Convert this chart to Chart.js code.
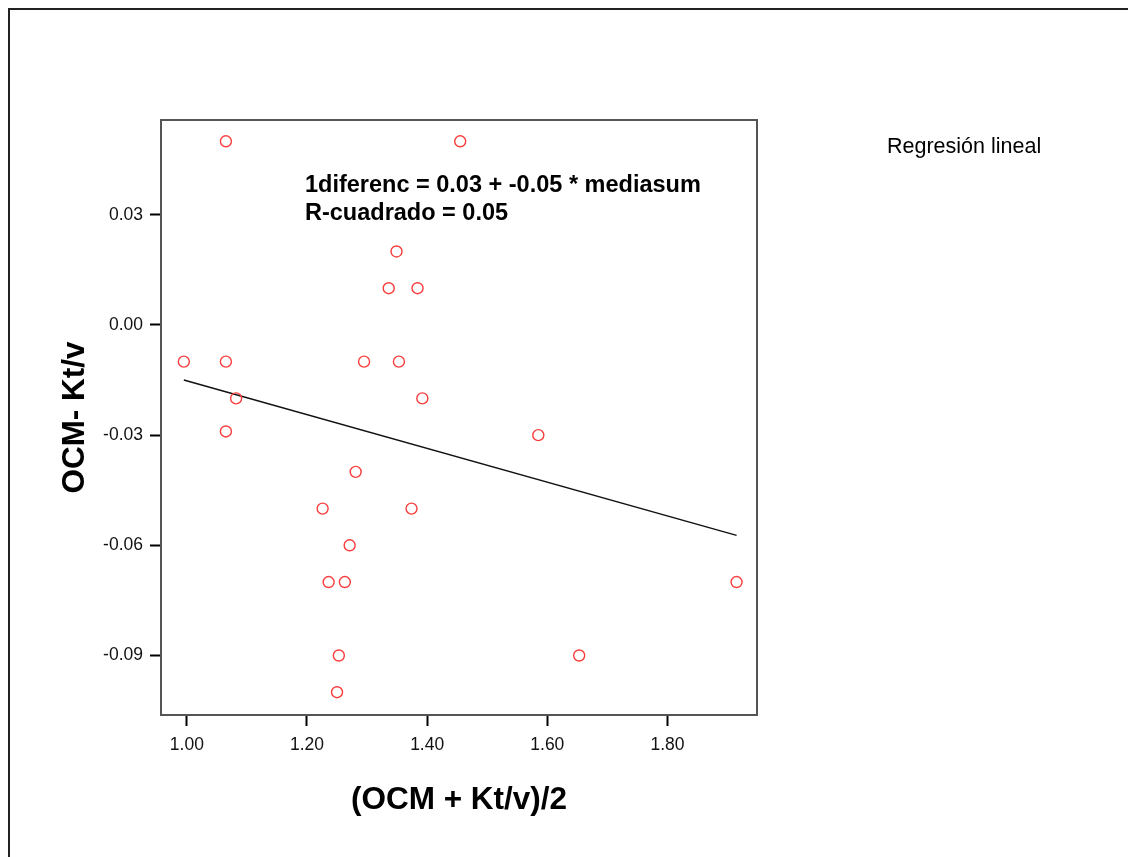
<!DOCTYPE html>
<html>
<head>
<meta charset="utf-8">
<script src="https://cdn.jsdelivr.net/npm/chart.js@4.4.1/dist/chart.umd.min.js"></script>
<style>
  html, body { margin: 0; padding: 0; background: #fff; overflow: hidden; }
  #wrap { position: relative; width: 1128px; height: 857px; }
  #frame { position: absolute; left: 8px; top: 8px; width: 1200px; height: 900px;
           border-top: 2px solid #222; border-left: 2px solid #222; }
  canvas { position: absolute; left: 0; top: 0; }
  .txt { position: absolute; font-family: "Liberation Sans", Arial, sans-serif; color: #000; white-space: nowrap; line-height: 28px; }
  .ann { font-weight: bold; font-size: 23.5px; }
  .leg { font-size: 21.5px; }
</style>
</head>
<body>
<div id="wrap">
  <div id="frame"></div>
  <canvas id="c" width="1128" height="857"></canvas>
  <div class="txt ann" style="left:305px; top:170px;">1diferenc = 0.03 + -0.05 * mediasum</div>
  <div class="txt ann" style="left:305px; top:198px;">R-cuadrado = 0.05</div>
  <div class="txt leg" style="left:887px; top:132px;">Regresión lineal</div>
</div>
<script>
// ---- data ----
const meanValues = [1.065, 1.455, 1.349, 1.336, 1.384, 0.995, 1.065, 1.082, 1.065, 1.295, 1.353, 1.392,
                    1.281, 1.226, 1.374, 1.271, 1.236, 1.263, 1.253, 1.250, 1.585, 1.915, 1.653];
const diffValues = [0.05, 0.05, 0.02, 0.01, 0.01, -0.01, -0.01, -0.02, -0.029, -0.01, -0.01, -0.02,
                    -0.04, -0.05, -0.05, -0.06, -0.07, -0.07, -0.09, -0.10, -0.03, -0.07, -0.09];
const fitX = [0.995, 1.915];
const fitY = [-0.0150, -0.0573];
const xTicks = [1.00, 1.20, 1.40, 1.60, 1.80];
const yTicks = [-0.09, -0.06, -0.03, 0.00, 0.03];
const xTitle = "(OCM + Kt/v)/2";
const yTitle = "OCM- Kt/v";

const pts = meanValues.map((x, i) => ({ x: x, y: diffValues[i] }));
const fit = fitX.map((x, i) => ({ x: x, y: fitY[i] }));

const framePlugin = {
  id: 'frameBox',
  afterDatasetsDraw(chart) {
    const a = chart.chartArea, ctx = chart.ctx;
    ctx.save();
    ctx.strokeStyle = '#555';
    ctx.lineWidth = 2;
    ctx.strokeRect(a.left, a.top, a.right - a.left, a.bottom - a.top);
    ctx.restore();
  }
};

const tickFont = { family: "'Liberation Sans', Arial, sans-serif", size: 17.5 };
const titleFont = { family: "'Liberation Sans', Arial, sans-serif", size: 31.5, weight: 'bold' };

new Chart(document.getElementById('c'), {
  type: 'scatter',
  data: {
    datasets: [
      { type: 'line', data: fit, borderColor: '#111', borderWidth: 1.5, pointRadius: 0, fill: false, order: 2 },
      { data: pts, pointStyle: 'circle', pointRadius: 5.5, pointBorderWidth: 1.4,
        pointBorderColor: 'rgb(250,60,60)', pointBackgroundColor: 'rgba(0,0,0,0)', order: 1 }
    ]
  },
  options: {
    responsive: false,
    animation: false,
    devicePixelRatio: 1,
    layout: { padding: { left: 0, top: 120, right: 371, bottom: 0 } },
    plugins: { legend: { display: false }, tooltip: { enabled: false } },
    scales: {
      x: {
        type: 'linear', min: 0.957, max: 1.949,
        afterBuildTicks: s => { s.ticks = xTicks.map(v => ({ value: v })); },
        afterFit: s => { s.height = 142; },
        grid: { display: true, drawOnChartArea: false, drawTicks: true, tickLength: 11, tickWidth: 2, tickColor: '#000' },
        border: { display: true, color: '#555', width: 2 },
        ticks: { color: '#111', font: tickFont, padding: 9, callback: v => Number(v).toFixed(2), maxRotation: 0 },
        title: { display: true, text: xTitle, color: '#000', font: titleFont, padding: { top: 0, bottom: 38 } }
      },
      y: {
        type: 'linear', min: -0.1062, max: 0.0558,
        afterBuildTicks: s => { s.ticks = yTicks.map(v => ({ value: v })); },
        afterFit: s => { s.width = 161; },
        grid: { display: true, drawOnChartArea: false, drawTicks: true, tickLength: 11, tickWidth: 2, tickColor: '#000' },
        border: { display: true, color: '#555', width: 2 },
        ticks: { color: '#111', font: tickFont, padding: 7, callback: v => (Math.abs(v) < 1e-9 ? 0 : v).toFixed(2) },
        title: { display: true, text: yTitle, color: '#000', font: titleFont, padding: { top: 56, bottom: 0 } }
      }
    }
  },
  plugins: [framePlugin]
});
</script>
</body>
</html>
